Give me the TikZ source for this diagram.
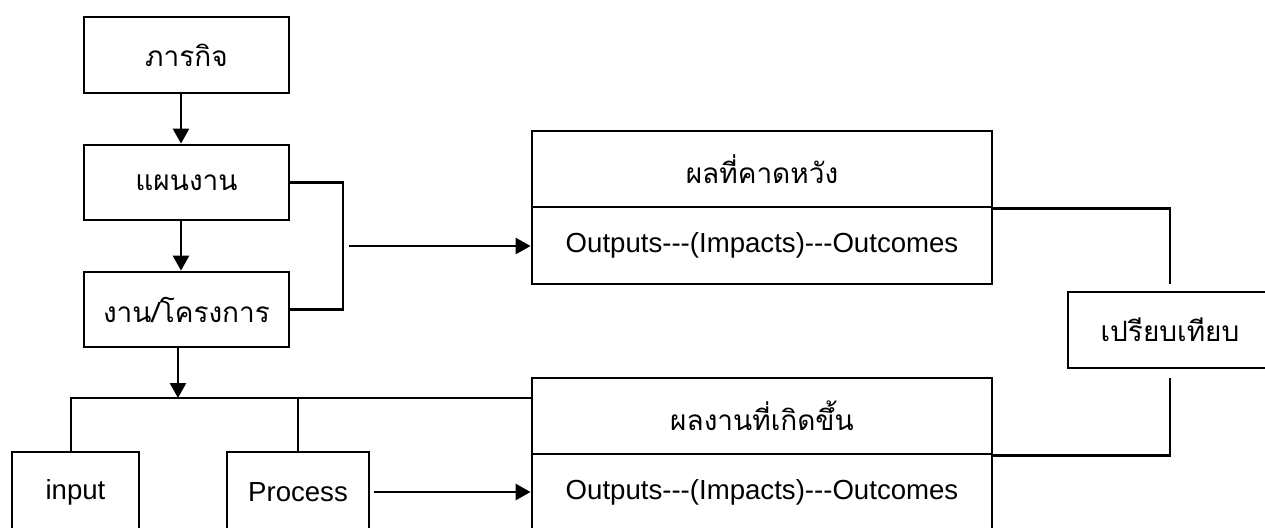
\documentclass[tikz,border=0pt]{standalone}
\usepackage{fontspec}
\setmainfont{Liberation Sans}
\newfontfamily\thai[Script=Thai]{Loma}
\usetikzlibrary{arrows.meta,calc}
\newcommand{\hy}{-\kern0pt}
\begin{document}
\begin{tikzpicture}[x=0.5pt,y=-0.5pt,
  line width=1.35pt,
  box/.style={draw, line width=1.4pt, inner sep=0pt, minimum width=#1, font=\fontsize{13.8}{16}\selectfont},
  box/.default=102.5pt,
  th/.style={font=\thai\fontsize{14}{16}\selectfont},
  arr/.style={-{Triangle[length=7.5pt,width=8pt]}}]
\useasboundingbox (0,0) rectangle (1265,527);
% left column
\node[box, th, minimum height=38pt] (mission) at (186.5,55) {ภารกิจ};
\node[box, th, minimum height=37.5pt] (plan) at (186.5,182.5) {แผนงาน};
\node[box, th, minimum height=37.5pt] (project) at (186.5,309.5) {งาน/โครงการ};
\node[box=63.5pt, minimum height=40pt] (input) at (75.5,492) {input};
\node[box=71pt, minimum height=40pt] (process) at (298,492) {Process};
% expected results
\node[box=230pt, th, minimum height=38pt] (exp) at (762,169) {ผลที่คาดหวัง};
\node[box=230pt, minimum height=38.5pt] (expout) at (762,245.5) {Outputs\hy\hy\hy(Impacts)\hy\hy\hy Outcomes};
% actual results
\node[box=230pt, th, minimum height=38pt] (act) at (762,416) {ผลงานที่เกิดขึ้น};
\node[box=230pt, minimum height=38pt] (actout) at (762,492) {Outputs\hy\hy\hy(Impacts)\hy\hy\hy Outcomes};
% compare
\node[box=102pt, th, minimum height=38pt] (compare) at (1170,330) {เปรียบเทียบ};
% vertical flow
\draw[arr] ([xshift=-2.75pt]mission.south) -- ([xshift=-2.75pt]plan.north);
\draw[arr] ([xshift=-2.75pt]plan.south) -- ([xshift=-2.75pt]project.north);
\coordinate (j) at (178,398);
\draw[arr] (project.south -| j) -- (j);
\draw (input.north -| 71,0) |- (j);
\draw (j) -- (act.west |- j);
\draw (process.north) -- (process.north |- j);
% bracket from plan and project
\coordinate (b1) at (343,182.5);
\coordinate (b2) at (343,309.5);
\draw (plan.east) -- (b1) -- (b2) -- (project.east);
\coordinate (b3) at (349,246);
\draw[arr] (b3) -- (b3 -| expout.west);
% process to actual outputs
\draw[arr] ([xshift=2pt]process.east) -- (actout.west);
% to compare
\coordinate (c1) at ([yshift=3.5pt]compare.north);
\coordinate (c2) at ([yshift=-4.5pt]compare.south);
\draw (exp.south east) -| (c1);
\draw (act.south east) -| (c2);
\end{tikzpicture}
\end{document}
